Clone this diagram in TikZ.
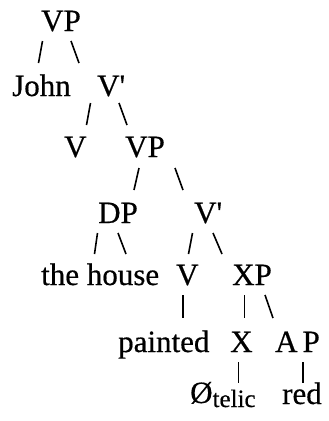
\documentclass[tikz,border=0pt]{standalone}
\usepackage{fontspec}
\setmainfont{Liberation Serif}
\newfontfamily\treefont{Liberation Serif}[FakeBold=0.5]
\begin{document}
\begin{tikzpicture}[x=1pt,y=1pt]
\tikzset{
  lbl/.style={font=\treefont\fontsize{31}{36}\selectfont, inner sep=0pt, anchor=base west},
  edge/.style={line width=1.6pt, line cap=butt}
}
\useasboundingbox (0,-421) rectangle (329,0);
% labels
\node[lbl] (vp1) at (41,-31) {VP};
\node[lbl] (john) at (12,-96) {John};
\node[lbl] (vbar1) at (97,-96) {V\textquotesingle};
\node[lbl] (v1) at (64,-157) {V};
\node[lbl] (vp2) at (125,-157) {VP};
\node[lbl] (dp) at (98,-223) {DP};
\node[lbl] (vbar2) at (194,-223) {V\textquotesingle};
\node[lbl] (house) at (41,-285) {the house};
\node[lbl] (v2) at (176,-285) {V};
\node[lbl] (xp) at (232,-285) {XP};
\node[lbl] (painted) at (118,-352) {painted};
\node[lbl] (x) at (230,-352) {X};
\node[lbl] (ap) at (275,-352) {A\kern5pt P};
\node[lbl] (telic) at (190,-403) {Ø\raisebox{-4pt}{\fontsize{25}{30}\selectfont telic}};
\node[lbl] (red) at (282,-404) {red};
% connector end points
\coordinate (a1) at (42.5,-41);  \coordinate (a2) at (38.5,-63);
\coordinate (b1) at (71,-41);    \coordinate (b2) at (79,-63);
\coordinate (c1) at (90.5,-103); \coordinate (c2) at (86.5,-125);
\coordinate (d1) at (119,-103);  \coordinate (d2) at (127,-125);
\coordinate (e1) at (139,-168);  \coordinate (e2) at (134,-190);
\coordinate (f1) at (175,-168);  \coordinate (f2) at (183,-190);
\coordinate (g1) at (97.5,-233); \coordinate (g2) at (94.5,-254);
\coordinate (h1) at (118,-233);  \coordinate (h2) at (126,-254);
\coordinate (i1) at (192.5,-233);\coordinate (i2) at (188.5,-254);
\coordinate (j1) at (213,-233);  \coordinate (j2) at (222,-254);
\coordinate (k1) at (183,-295);  \coordinate (k2) at (183,-318);
\coordinate (l1) at (244.5,-295);\coordinate (l2) at (244.5,-318);
\coordinate (m1) at (265,-295);  \coordinate (m2) at (273,-318);
\coordinate (n1) at (238.5,-362);\coordinate (n2) at (238.5,-383);
\coordinate (o1) at (303,-362);  \coordinate (o2) at (303,-383);
% connectors
\draw[edge] (a1) -- (a2);
\draw[edge] (b1) -- (b2);
\draw[edge] (c1) -- (c2);
\draw[edge] (d1) -- (d2);
\draw[edge] (e1) -- (e2);
\draw[edge] (f1) -- (f2);
\draw[edge] (g1) -- (g2);
\draw[edge] (h1) -- (h2);
\draw[edge] (i1) -- (i2);
\draw[edge] (j1) -- (j2);
\draw[edge] (k1) -- (k2);
\draw[edge] (l1) -- (l2);
\draw[edge] (m1) -- (m2);
\draw[edge] (n1) -- (n2);
\draw[edge] (o1) -- (o2);
\end{tikzpicture}
\end{document}
